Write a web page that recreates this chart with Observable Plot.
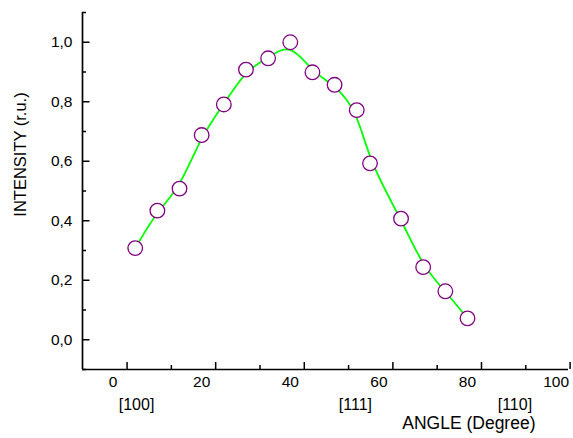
<!DOCTYPE html>
<html>
<head>
<meta charset="utf-8">
<script src="https://cdn.jsdelivr.net/npm/d3@7"></script>
<script src="https://cdn.jsdelivr.net/npm/@observablehq/plot@0.6"></script>
<style>
  html, body { margin: 0; padding: 0; background: #fff; }
  svg { font-family: "Liberation Sans", Arial, sans-serif; }
</style>
</head>
<body>
<div id="chart"></div>
<script>
// Data
const angles = [5, 10, 15, 20, 25, 30, 35, 40, 45, 50, 55, 58, 65, 70, 75, 80];
const intensity = [0.308, 0.434, 0.508, 0.688, 0.791, 0.908, 0.946, 1.0, 0.899, 0.857, 0.772, 0.593, 0.407, 0.244, 0.163, 0.072];
const xTicksMajor = [0, 20, 40, 60, 80, 100];
const xTicksMinor = [10, 30, 50, 70, 90];
const yTicksMajor = [0, 0.2, 0.4, 0.6, 0.8, 1.0];
const yTicksMinor = [-0.1, 0.1, 0.3, 0.5, 0.7, 0.9, 1.1];
const directionLabels = ["[100]", "[111]", "[110]"];
const directionAngles = [5.3, 54.7, 90.7];
const xDomain = [-6.9, 102.8];
const yDomain = [-0.1, 1.1];

const data = angles.map((a, i) => ({angle: a, value: intensity[i]}));
const dirs = directionLabels.map((t, i) => ({label: t, angle: directionAngles[i]}));

const W = 573, H = 438;
const mL = 82, mR = 5, mT = 12, mB = 69;
const frameW = W - mL - mR, frameH = H - mT - mB;
const fmt = d => d.toFixed(1).replace(".", ",");

const chart = Plot.plot({
  width: W,
  height: H,
  marginLeft: mL,
  marginRight: mR,
  marginTop: mT,
  marginBottom: mB,
  style: {fontFamily: "Liberation Sans, Arial, sans-serif", background: "white"},
  x: {domain: xDomain},
  y: {domain: yDomain},
  marks: [
    // axis lines
    Plot.ruleX([xDomain[0]], {stroke: "black", strokeWidth: 1.7}),
    Plot.ruleY([yDomain[0]], {stroke: "black", strokeWidth: 1.7}),
    // x ticks (inward, shifted like the original)
    Plot.ruleX(xTicksMajor, {x: d => d, insetTop: frameH - 7, dx: 14, stroke: "black", strokeWidth: 1.5}),
    Plot.ruleX(xTicksMinor, {x: d => d, insetTop: frameH - 4, dx: 14, stroke: "black", strokeWidth: 1.5}),
    // y ticks (inward)
    Plot.ruleY(yTicksMajor, {y: d => d, insetRight: frameW - 7.5, stroke: "black", strokeWidth: 1.5}),
    Plot.ruleY(yTicksMinor, {y: d => d, insetRight: frameW - 4, stroke: "black", strokeWidth: 1.5}),
    // tick labels
    Plot.axisX({ticks: xTicksMajor, tickSize: 0, tickPadding: 6, label: null, fontSize: 15.5, fill: "black"}),
    Plot.axisY({ticks: yTicksMajor, tickSize: 0, tickPadding: 10, tickFormat: fmt, label: null, fontSize: 15.5, fill: "black"}),
    // direction labels
    Plot.text(dirs, {x: "angle", text: "label", frameAnchor: "bottom", dy: 40, fontSize: 16, fill: "black"}),
    // axis titles
    Plot.text(["ANGLE (Degree)"], {frameAnchor: "bottom-right", textAnchor: "end", dx: -33, dy: 59, fontSize: 17.5, fill: "black"}),
    Plot.text(["INTENSITY (r.u.)"], {frameAnchor: "top-left", textAnchor: "middle", rotate: -90, dx: -68, dy: 142, fontSize: 16.5, fill: "black"}),
    // data
    Plot.line(data, {x: "angle", y: "value", curve: "basis", stroke: "#00ff00", strokeWidth: 1.8}),
    Plot.dot(data, {x: "angle", y: "value", r: 7.3, fill: "white", stroke: "#800080", strokeWidth: 1.3})
  ]
});
document.getElementById("chart").appendChild(chart);
</script>
</body>
</html>
